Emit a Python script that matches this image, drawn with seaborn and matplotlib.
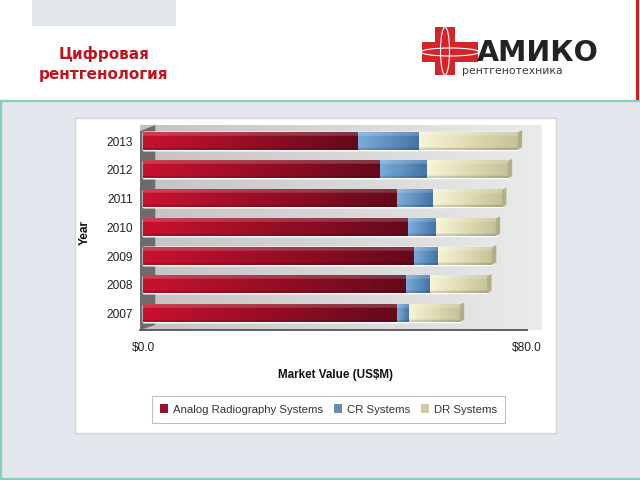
import numpy as np
import pandas as pd
import matplotlib
matplotlib.use("Agg")
import matplotlib.pyplot as plt
from matplotlib.patches import Rectangle, Polygon, Ellipse, Patch
from matplotlib.colors import to_rgb
import seaborn as sns

# ---------------- data ----------------
years = ["2013", "2012", "2011", "2010", "2009", "2008", "2007"]
analog = [44.6, 49.2, 52.9, 55.2, 56.3, 54.6, 52.9]
cr = [12.9, 9.8, 7.5, 5.8, 5.2, 5.2, 2.3]
dr = [20.6, 17.0, 14.4, 12.5, 11.2, 11.9, 10.8]
series_names = ["Analog Radiography Systems", "CR Systems", "DR Systems"]
xtick_vals = [0, 80]
xtick_labels = ["\\$0.0", "\\$80.0"]

W, H = 640, 480
sns.set_style("white")
NARROW = ["Liberation Sans Narrow", "Liberation Sans", "DejaVu Sans"]
plt.rcParams["font.family"] = NARROW

fig = plt.figure(figsize=(6.4, 4.8), dpi=100)
fig.patch.set_facecolor("white")


def px_rect(x0, y0, w, h, **kw):
    return Rectangle((x0 / W, 1 - (y0 + h) / H), w / W, h / H,
                     transform=fig.transFigure, **kw)


# ---------------- slide decoration ----------------
fig.add_artist(px_rect(32, -2, 144, 28, facecolor="#e3e6ea", edgecolor="none", zorder=-10))
fig.add_artist(px_rect(0.8, 100.5, 645, 378.7, facecolor="#e3e6ec",
                       edgecolor="#86d0bb", linewidth=1.6, zorder=-10))
fig.add_artist(px_rect(636, -2, 3, 102, facecolor="#cf1a20", edgecolor="none", zorder=-9))
# chart white box
fig.add_artist(px_rect(75, 118, 481, 315, facecolor="white", edgecolor="#d4d6da",
                       linewidth=1.0, zorder=-8))

# title
fig.text(104 / W, 1 - 54 / H, "Цифровая", color="#c0141e", fontsize=11,
         fontweight="bold", ha="center", va="center", family=["DejaVu Sans"])
fig.text(104 / W, 1 - 75 / H, "рентгенология", color="#c0141e", fontsize=11,
         fontweight="bold", ha="center", va="center", family=["DejaVu Sans"])

# logo cross
red_logo = "#d4262a"
fig.add_artist(px_rect(435, 27, 20, 48, facecolor=red_logo, edgecolor="none", zorder=2))
fig.add_artist(px_rect(422, 42, 56, 20, facecolor=red_logo, edgecolor="none", zorder=2))
fig.add_artist(Ellipse((445 / W, 1 - 51 / H), 9 / W, 48 / H, transform=fig.transFigure,
                       facecolor="none", edgecolor="white", linewidth=0.8, zorder=3))
fig.add_artist(Ellipse((450 / W, 1 - 52 / H), 58 / W, 8 / H, transform=fig.transFigure,
                       facecolor="none", edgecolor="white", linewidth=0.8, zorder=3))
fig.text(477 / W, 1 - 53 / H, "АМИКО", color="#232323", fontsize=20.5,
         fontweight="bold", ha="left", va="center", family=["DejaVu Sans"])
fig.text(462 / W, 1 - 71 / H, "рентгенотехника", color="#3a3a3a", fontsize=7.8,
         ha="left", va="center", family=["DejaVu Sans"])

# ---------------- chart ----------------
ax_l, ax_r, ax_t, ax_b = 140, 542, 125, 330
ax = fig.add_axes([ax_l / W, 1 - ax_b / H, (ax_r - ax_l) / W, (ax_b - ax_t) / H])
ax.set_facecolor("none")

df = pd.DataFrame({"Year": years, "Analog": analog, "CR": cr, "DR": dr})
df["c1"] = df["Analog"]
df["c2"] = df["Analog"] + df["CR"]
df["c3"] = df["c2"] + df["DR"]

layers = [("c3", "c2", "#d8d6aa", ("#f7f5d4", "#c6c298")),
          ("c2", "c1", "#5d8cc0", ("#7aaedc", "#4474a6")),
          ("c1", None, "#a8102c", ("#c8122f", "#640a1b"))]

bar_w = 0.6
patch_groups = {}
for col, prev, col_mid, _ in layers:
    n0 = len(ax.patches)
    sns.barplot(data=df, x=col, y="Year", order=years, orient="h", color=col_mid,
                width=bar_w, saturation=1, ax=ax, zorder=3)
    patch_groups[col] = ax.patches[n0:]


def grad_img(cl, cr_, n=96, m=24, top_frac=0.2, mixv=0.18):
    cl, cr_ = np.array(to_rgb(cl)), np.array(to_rgb(cr_))
    t = np.linspace(0, 1, n)
    row = (1 - t)[:, None] * cl + t[:, None] * cr_
    v = np.linspace(0, 1, m)
    mix = np.where(v < top_frac, mixv, 0.0)
    img = row[None, :, :] * (1 - mix[:, None, None]) + mix[:, None, None]
    dark = np.where(v > 0.88, 0.86, 1.0)
    return np.clip(img * dark[:, None, None], 0, 1)


for col, prev, col_mid, (cl, cr_) in layers:
    img = grad_img(cl, cr_)
    starts = df[prev].values if prev else np.zeros(len(years))
    for p, xs in zip(patch_groups[col], starts):
        y0, h, xe = p.get_y(), p.get_height(), p.get_width()
        ax.imshow(img, extent=[xs, xe, y0 + h, y0], origin="upper", aspect="auto",
                  interpolation="bilinear", zorder=4)
        if col == "c3":
            ax.add_patch(Polygon([[xe, y0 + h], [xe, y0], [xe + 0.9, y0 - 0.08],
                                  [xe + 0.9, y0 + h - 0.08]], closed=True,
                                 facecolor="#b3af82", edgecolor="none", zorder=4.5))

# back wall gradient and left wall
bg = np.linspace(0, 1, 128)
bcl, bcr = np.array(to_rgb("#c3c3c3")), np.array(to_rgb("#ebebeb"))
bimg = ((1 - bg)[:, None] * bcl + bg[:, None] * bcr)[None, :, :]
ax.imshow(bimg, extent=[0, 1, 0, 1], transform=ax.transAxes, aspect="auto",
          interpolation="bilinear", zorder=0)
ax.add_patch(Polygon([[0, 0.0], [0.038, 0.025], [0.038, 1.0], [0, 0.97]],
                     closed=True, transform=ax.transAxes, facecolor="#6c6c6c",
                     edgecolor="none", zorder=1))

x_per_px = 4.8
ax.set_xlim(-(143 - ax_l) / x_per_px, (ax_r - 143) / x_per_px)
ax.set_ylim(6.574, -0.557)

FS = 8.6
ax.set_xticks(xtick_vals)
ax.set_xticklabels(xtick_labels)
ax.set_yticks(range(len(years)))
ax.set_yticklabels(years)
ax.tick_params(axis="x", length=0, pad=9, labelsize=FS, labelcolor="#222222")
ax.tick_params(axis="y", length=0, pad=5, labelsize=FS, labelcolor="#222222")
ax.set_yticks(np.arange(-0.5, len(years), 1.0), minor=True)
ax.tick_params(axis="y", which="minor", length=3, color="#555555", direction="out")
ax.set_xlabel("")
ax.set_ylabel("")
for s in ["top", "right", "left"]:
    ax.spines[s].set_visible(False)
ax.spines["bottom"].set_color("#555555")
ax.spines["bottom"].set_linewidth(1.3)
ax.spines["bottom"].set_bounds(ax.get_xlim()[0], 80)
ax.grid(False)

fig.text(85 / W, 1 - 232 / H, "Year", rotation=90, fontsize=FS, fontweight="bold",
         ha="center", va="center", color="#111111")
fig.text(335 / W, 1 - 375 / H, "Market Value (US\\$M)", fontsize=8.4, fontweight="bold",
         ha="center", va="center", color="#111111")

handles = [Patch(facecolor="#9b1030", edgecolor="none"),
           Patch(facecolor="#6a8cb4", edgecolor="none"),
           Patch(facecolor="#cfcd9c", edgecolor="none")]
leg = fig.legend(handles, series_names, loc="center",
                 bbox_to_anchor=(328.5 / W, 1 - 409.5 / H), ncol=3, fontsize=8.2,
                 frameon=True, fancybox=False, edgecolor="#c0c0c0", framealpha=1,
                 handlelength=0.75, handleheight=0.75, handletextpad=0.45,
                 columnspacing=0.9, borderpad=0.7, borderaxespad=0.0)
leg.get_frame().set_linewidth(0.8)
for t in leg.get_texts():
    t.set_color("#333333")

fig.savefig("out.png", dpi=100)
